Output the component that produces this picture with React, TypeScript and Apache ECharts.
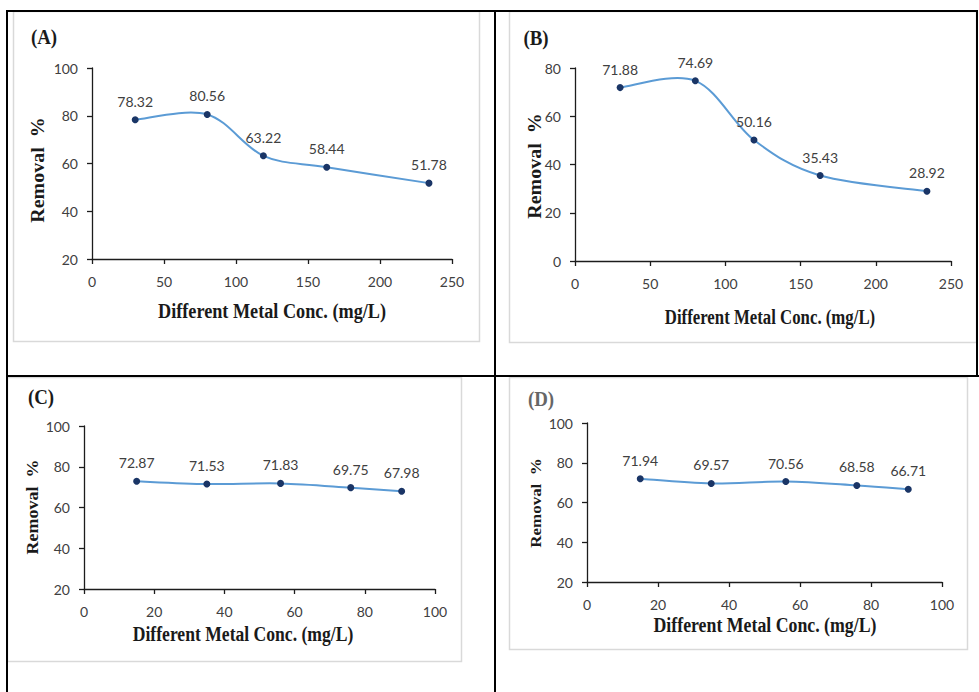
import React, { useEffect, useRef } from "react";
import * as echarts from "echarts";

// Metal concentration (mg/L) for each panel pair
const concAB = [30, 80, 119, 163, 234];
const concCD = [15, 35, 56, 76, 90.5];

// Removal % per panel
const removalA = [78.32, 80.56, 63.22, 58.44, 51.78];
const removalB = [71.88, 74.69, 50.16, 35.43, 28.92];
const removalC = [72.87, 71.53, 71.83, 69.75, 67.98];
const removalD = [71.94, 69.57, 70.56, 68.58, 66.71];

const panelLabels = ["(A)", "(B)", "(C)", "(D)"];
const xTitle = "Different Metal Conc. (mg/L)";
const yTitle = "Removal  %";

const xRangeAB = { min: 0, max: 250, interval: 50 };
const xRangeCD = { min: 0, max: 100, interval: 20 };
const yRangeA = { min: 20, max: 100, interval: 20 };
const yRangeB = { min: 0, max: 80, interval: 20 };
const yRangeCD = { min: 20, max: 100, interval: 20 };

const AXIS_COLOR = "#1c1c1c";
const TEXT_COLOR = "#404040";
const LINE_COLOR = "#5B9BD5";
const MARKER_COLOR = "#1a3566";
const SANS = "Lato, 'Open Sans', sans-serif";
const SERIF = "'Liberation Serif', 'DejaVu Serif', serif";

function makeX(idx: number, r: { min: number; max: number; interval: number }) {
  return {
    type: "value",
    gridIndex: idx,
    ...r,
    axisLine: { show: true, lineStyle: { color: AXIS_COLOR, width: 1.3 } },
    axisTick: { show: true, length: 5, lineStyle: { color: AXIS_COLOR, width: 1.3 } },
    axisLabel: { color: TEXT_COLOR, fontSize: 14, fontFamily: SANS, margin: 15 },
    splitLine: { show: false },
  };
}

function makeY(idx: number, r: { min: number; max: number; interval: number }) {
  return {
    type: "value",
    gridIndex: idx,
    ...r,
    axisLine: { show: true, lineStyle: { color: AXIS_COLOR, width: 1.3 } },
    axisTick: { show: true, length: 5, lineStyle: { color: AXIS_COLOR, width: 1.3 } },
    axisLabel: { color: TEXT_COLOR, fontSize: 14, fontFamily: SANS, margin: 14 },
    splitLine: { show: false },
  };
}

// Smoothed curve (cardinal spline, spreadsheet-style) through the data points,
// placed with the grid's own axis scales via api.coord.
function makeCurve(idx: number, xs: number[], ys: number[]) {
  const pts = xs.map((x, i) => [x, ys[i]]);
  return {
    type: "custom",
    xAxisIndex: idx,
    yAxisIndex: idx,
    data: pts,
    encode: { x: 0, y: 1 },
    silent: true,
    z: 2,
    renderItem: (params: any, api: any) => {
      if (params.dataIndex !== 0) return null;
      const c = pts.map((p) => api.coord(p));
      const n = c.length;
      let d = `M${c[0][0]},${c[0][1]}`;
      for (let i = 0; i < n - 1; i++) {
        const p0 = c[Math.max(i - 1, 0)];
        const p1 = c[i];
        const p2 = c[i + 1];
        const p3 = c[Math.min(i + 2, n - 1)];
        const t = 1 / 6;
        const c1x = p1[0] + (p2[0] - p0[0]) * t;
        const c1y = p1[1] + (p2[1] - p0[1]) * t;
        const c2x = p2[0] - (p3[0] - p1[0]) * t;
        const c2y = p2[1] - (p3[1] - p1[1]) * t;
        d += ` C${c1x},${c1y} ${c2x},${c2y} ${p2[0]},${p2[1]}`;
      }
      return {
        type: "path",
        shape: { pathData: d },
        style: { stroke: LINE_COLOR, fill: "none", lineWidth: 2 },
      };
    },
  };
}

function makePoints(idx: number, xs: number[], ys: number[]) {
  return {
    type: "scatter",
    xAxisIndex: idx,
    yAxisIndex: idx,
    data: xs.map((x, i) => [x, ys[i]]),
    symbol: "circle",
    symbolSize: 7,
    z: 3,
    itemStyle: { color: MARKER_COLOR, opacity: 1 },
    label: {
      show: true,
      position: "top",
      distance: 8,
      color: TEXT_COLOR,
      fontSize: 14,
      fontFamily: SANS,
      formatter: (p: any) => p.value[1].toFixed(2),
    },
  };
}

function frame(x1: number, y1: number, x2: number, y2: number) {
  return {
    type: "rect",
    z: 0,
    shape: { x: x1 + 0.5, y: y1 + 0.5, width: x2 - x1, height: y2 - y1 },
    style: { fill: "#ffffff", stroke: "#d9d9d9", lineWidth: 1.5 },
  };
}

function rule(x1: number, y1: number, x2: number, y2: number) {
  return {
    type: "line",
    z: 50,
    shape: { x1, y1, x2, y2 },
    style: { stroke: "#000000", lineWidth: 2 },
  };
}

function label(text: string, x: number, y: number, color = "#1a1a1a") {
  return {
    type: "text",
    z: 60,
    x,
    y,
    scaleX: 0.9,
    style: {
      text,
      fill: color,
      font: `bold 21px ${SERIF}`,
      align: "center",
      verticalAlign: "middle",
    },
  };
}

function xName(x: number, y: number, sx: number) {
  return {
    type: "text",
    z: 60,
    x,
    y,
    scaleX: sx,
    style: {
      text: xTitle,
      fill: "#1a1a1a",
      font: `bold 20px ${SERIF}`,
      align: "center",
      verticalAlign: "middle",
    },
  };
}

function yName(x: number, y: number, size: number) {
  return {
    type: "text",
    z: 60,
    x,
    y,
    rotation: Math.PI / 2,
    scaleY: 0.9,
    style: {
      text: yTitle,
      fill: "#1a1a1a",
      font: `bold ${size}px ${SERIF}`,
      align: "center",
      verticalAlign: "middle",
    },
  };
}

export default function App() {
  const ref = useRef<HTMLDivElement>(null);

  useEffect(() => {
    if (!ref.current) return;
    const chart = echarts.init(ref.current, undefined, { renderer: "svg" });
    chart.setOption({
      animation: false,
      backgroundColor: "#ffffff",
      grid: [
        { left: 92, right: 527, top: 68, bottom: 433 },
        { left: 575, right: 28, top: 68, bottom: 431 },
        { left: 84, right: 544, top: 426, bottom: 103 },
        { left: 587, right: 37, top: 423, bottom: 110 },
      ],
      xAxis: [makeX(0, xRangeAB), makeX(1, xRangeAB), makeX(2, xRangeCD), makeX(3, xRangeCD)],
      yAxis: [makeY(0, yRangeA), makeY(1, yRangeB), makeY(2, yRangeCD), makeY(3, yRangeCD)],
      series: [
        makeCurve(0, concAB, removalA),
        makeCurve(1, concAB, removalB),
        makeCurve(2, concCD, removalC),
        makeCurve(3, concCD, removalD),
        makePoints(0, concAB, removalA),
        makePoints(1, concAB, removalB),
        makePoints(2, concCD, removalC),
        makePoints(3, concCD, removalD),
      ],
      graphic: [
        frame(13, 11, 479, 341),
        frame(509, 11, 976, 342),
        frame(7, 377, 461, 661),
        frame(509, 377, 967, 649),
        rule(7, 11, 978, 11),
        rule(7, 376, 979, 376),
        rule(7, 10, 7, 692),
        rule(495, 10, 495, 692),
        rule(977, 10, 977, 376),
        label(panelLabels[0], 44, 37),
        label(panelLabels[1], 536, 38),
        label(panelLabels[2], 41, 397),
        label(panelLabels[3], 541, 399, "#666666"),
        xName(272, 311, 0.91),
        xName(770, 318, 0.84),
        xName(243, 634, 0.88),
        xName(765, 625, 0.89),
        yName(38, 170, 20),
        yName(535, 166, 20),
        yName(33, 507, 18),
        yName(536, 503, 17),
      ],
    });
    return () => chart.dispose();
  }, []);

  return (
    <div
      ref={ref}
      style={{ position: "fixed", left: 0, top: 0, width: 979, height: 692, background: "#fff" }}
    />
  );
}
